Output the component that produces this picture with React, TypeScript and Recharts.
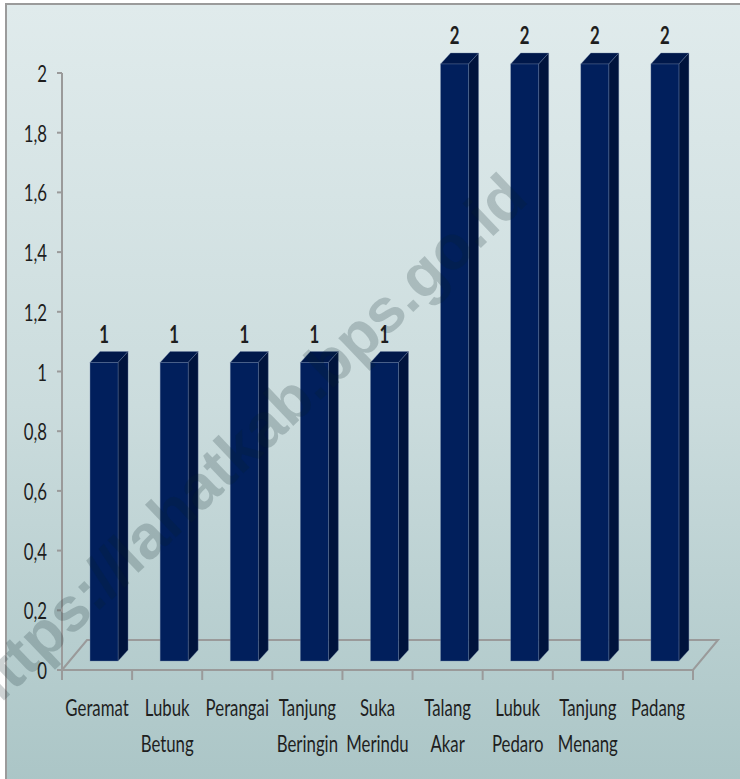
import React from 'react';
import { BarChart, Bar, XAxis, YAxis, ReferenceArea, LabelList } from 'recharts';

const villages = [
  'Geramat',
  'Lubuk Betung',
  'Perangai',
  'Tanjung Beringin',
  'Suka Merindu',
  'Talang Akar',
  'Lubuk Pedaro',
  'Tanjung Menang',
  'Padang',
];
const counts = [1, 1, 1, 1, 1, 2, 2, 2, 2];
const yTicks = [0, 0.2, 0.4, 0.6, 0.8, 1, 1.2, 1.4, 1.6, 1.8, 2];

const data = villages.map((name, i) => ({ name, value: counts[i] }));

const FONT = 'Lato, "Noto Sans", sans-serif';
const TEXT = '#1e1e1e';
const SQUEEZE = 0.7;
// 3d look
const DEPTH_X = 10;
const DEPTH_Y = 11;
const LIFT_X = 7;
const LIFT_Y = 9;
const FLOOR_X = 25;
const FLOOR_Y = 30;

const fmt = (v: number) => String(Math.round(v * 10) / 10).replace('.', ',');

function Box3D(props: any) {
  const { x, y, width, height } = props;
  if (height == null || height <= 0) return null;
  const fx = x + LIFT_X;
  const fy = y - LIFT_Y;
  const fb = fy + height;
  const edge = 'rgba(110,130,165,0.6)';
  return (
    <g>
      <polygon
        points={`${fx},${fy} ${fx + DEPTH_X},${fy - DEPTH_Y} ${fx + width + DEPTH_X},${fy - DEPTH_Y} ${fx + width},${fy}`}
        fill="#00184a"
        stroke={edge}
        strokeWidth={0.6}
      />
      <polygon
        points={`${fx + width},${fy} ${fx + width + DEPTH_X},${fy - DEPTH_Y} ${fx + width + DEPTH_X},${fb - DEPTH_Y} ${fx + width},${fb}`}
        fill="#00133c"
        stroke={edge}
        strokeWidth={0.6}
      />
      <rect x={fx} y={fy} width={width} height={height} fill="#011f5c" stroke={edge} strokeWidth={0.6} />
    </g>
  );
}

function Floor(props: any) {
  const { x, y, width, height } = props;
  const b = y + height;
  return (
    <polygon
      points={`${x},${b} ${x + FLOOR_X},${b - FLOOR_Y} ${x + width + FLOOR_X},${b - FLOOR_Y} ${x + width},${b}`}
      fill="none"
      stroke="#9a9a9a"
      strokeWidth={2}
    />
  );
}

function YTick(props: any) {
  const { x, y, payload } = props;
  return (
    <g transform={`translate(${x},${y}) scale(${SQUEEZE},1)`}>
      <text textAnchor="end" dy={9} fontSize={24} fontFamily={FONT} fill={TEXT}>
        {fmt(payload.value)}
      </text>
    </g>
  );
}

function XTick(props: any) {
  const { x, y, payload, index } = props;
  const half = payload.offset || 35;
  const words = String(payload.value).split(' ');
  return (
    <g>
      <line x1={x - half} y1={y} x2={x - half} y2={y + 10} stroke="#9a9a9a" strokeWidth={2} />
      {index === villages.length - 1 && (
        <line x1={x + half} y1={y} x2={x + half} y2={y + 10} stroke="#9a9a9a" strokeWidth={2} />
      )}
      <g transform={`translate(${x},${y}) scale(${SQUEEZE},1)`}>
        {words.map((w, i) => (
          <text key={i} y={46 + i * 36} textAnchor="middle" fontSize={24} fontFamily={FONT} fill={TEXT}>
            {w}
          </text>
        ))}
      </g>
    </g>
  );
}

function TopLabel(props: any) {
  const { x, y, width, value } = props;
  const cx = x + LIFT_X + width / 2;
  return (
    <g transform={`translate(${cx},${y - LIFT_Y - 20}) scale(${SQUEEZE},1)`}>
      <text textAnchor="middle" fontSize={24} fontWeight="bold" fontFamily={FONT} fill={TEXT}>
        {value}
      </text>
    </g>
  );
}

export default function App() {
  return (
    <div style={{ position: 'absolute', left: 0, top: 0, width: 740, height: 779, background: '#fff', overflow: 'hidden' }}>
      <div
        style={{
          position: 'absolute',
          left: 5,
          top: 3,
          width: 760,
          height: 800,
          borderTop: '2px solid #9b9b9b',
          borderLeft: '2px solid #9b9b9b',
          background: 'linear-gradient(180deg, #e0ebec 0%, #cbdcdd 50%, #a9c4c5 100%)',
        }}
      />
      <div style={{ position: 'absolute', left: 0, top: 0 }}>
        <BarChart
          width={740}
          height={779}
          data={data}
          margin={{ top: 73, right: 47, left: 0, bottom: 0 }}
          barCategoryGap="30%"
        >
          <XAxis
            dataKey="name"
            axisLine={false}
            tickLine={false}
            tickSize={0}
            tickMargin={0}
            height={109}
            interval={0}
            tick={<XTick />}
          />
          <YAxis
            domain={[0, 2]}
            ticks={yTicks}
            width={62}
            tickSize={5}
            tickMargin={10}
            axisLine={{ stroke: '#9a9a9a', strokeWidth: 2 }}
            tickLine={{ stroke: '#9a9a9a', strokeWidth: 2 }}
            tick={<YTick />}
          />
          <ReferenceArea y1={0} y2={0.01} ifOverflow="visible" shape={<Floor />} />
          <Bar dataKey="value" shape={<Box3D />} isAnimationActive={false}>
            <LabelList dataKey="value" content={<TopLabel />} />
          </Bar>
        </BarChart>
      </div>
      {/* watermark: a dark translucent stamp, nearly invisible on the navy bars */}
      <div
        style={{
          position: 'absolute',
          left: 243,
          top: 444,
          transform: 'translate(-50%, -50%) rotate(-43.5deg)',
          whiteSpace: 'nowrap',
          fontFamily: '"Liberation Sans", Arial, sans-serif',
          fontWeight: 'bold',
          fontSize: 62,
          color: 'rgba(10,35,40,0.2)',
          pointerEvents: 'none',
        }}
      >
        https://lahatkab.bps.go.id
      </div>
    </div>
  );
}
